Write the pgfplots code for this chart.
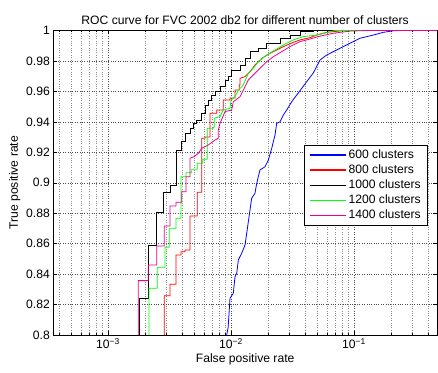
\documentclass[border=0pt]{standalone}
\usepackage{fontspec}
\setmainfont{Liberation Sans}
\usepackage{pgfplots}
\pgfplotsset{compat=1.18}
\begin{document}
\begin{tikzpicture}
\begin{axis}[
  xmode=log,
  scale only axis,
  width=383.7bp, height=304.5bp,
  xmin=3.59e-4, xmax=0.473,
  ymin=0.8, ymax=1,
  font=\fontsize{12.2}{14}\selectfont,
  /pgf/number format/assume math mode=true,
  xtick={1e-3,1e-2,1e-1},
  xticklabels={10\textsuperscript{−3},10\textsuperscript{−2},10\textsuperscript{−1}},
  ytick={0.8,0.82,0.84,0.86,0.88,0.9,0.92,0.94,0.96,0.98,1},
  yticklabels={0.8,0.82,0.84,0.86,0.88,0.9,0.92,0.94,0.96,0.98,1},
  minor xtick={4e-4,5e-4,6e-4,7e-4,8e-4,9e-4,2e-3,3e-3,4e-3,5e-3,6e-3,7e-3,8e-3,9e-3,2e-2,3e-2,4e-2,5e-2,6e-2,7e-2,8e-2,9e-2,2e-1,3e-1,4e-1},
  tick align=inside,
  major tick length=4bp, minor tick length=2bp,
  tick style={black, line width=0.4pt},
  axis line style={line width=0.7pt},
  grid=both,
  major grid style={dotted, black!70, line width=0.4pt},
  minor grid style={dotted, black!45, line width=0.4pt},
  title={ROC curve for FVC 2002 db2 for different number of clusters},
  title style={yshift=-4bp},
  xlabel={False positive rate},
  ylabel={True positive rate},
  xlabel style={yshift=2bp},
  ylabel style={yshift=-1bp},
  legend style={at={(0.977,0.624)}, anchor=north east, draw=black, line width=0.7pt,
    font=\fontsize{12.2}{14}\selectfont, row sep=0.8bp, inner xsep=5bp, inner ysep=2.5bp},
  legend cell align=left,
  legend image code/.code={\draw[#1, line width=1.2pt] (0bp,0bp) -- (36bp,0bp);},
  clip=true,
]
\coordinate (SW) at (rel axis cs:0,0);
\coordinate (NE) at (rel axis cs:1,1);
% 600 clusters
\addplot[color=blue, line width=0.8pt] coordinates {
(9.226e-3,0.79)(9.226e-3,0.8)(9.506e-3,0.8055)(9.506e-3,0.8066)(9.815e-3,0.8241)(1.044e-2,0.8274)
(1.078e-2,0.8383)(1.113e-2,0.8405)(1.147e-2,0.8493)(1.222e-2,0.8537)(1.300e-2,0.8591)(1.342e-2,0.8668)
(1.427e-2,0.8821)(1.473e-2,0.8898)(1.567e-2,0.8931)(1.618e-2,0.8996)(1.721e-2,0.9084)(1.890e-2,0.9105)
(2.011e-2,0.9149)(2.143e-2,0.9226)(2.279e-2,0.9314)(2.352e-2,0.9390)(2.503e-2,0.9401)(2.663e-2,0.9445)
(2.838e-2,0.9478)(3.115e-2,0.9532)(3.420e-2,0.9576)(3.757e-2,0.9620)(4.125e-2,0.9664)(4.668e-2,0.9721)
(5.292e-2,0.9806)(5.998e-2,0.9839)(6.787e-2,0.9861)(7.694e-2,0.9883)(9.280e-2,0.9916)(0.1119,0.9949)
(0.1435,0.9970)(0.1730,0.9988)(0.2087,0.9998)(0.2366,1)(0.6,1)
};
\addlegendentry{600 clusters}
% 800 clusters
\addplot[color=red, line width=0.8pt] coordinates {
(2.869e-3,0.79)(2.869e-3,0.8258)(3.192e-3,0.8258)(3.192e-3,0.8333)(3.572e-3,0.8333)(3.572e-3,0.8525)
(3.922e-3,0.8525)(3.922e-3,0.8547)(4.227e-3,0.8547)(4.227e-3,0.8558)(4.642e-3,0.8558)(4.642e-3,0.8782)
(5.321e-3,0.8782)(5.321e-3,0.8937)(5.778e-3,0.8937)(5.778e-3,0.9292)(6.146e-3,0.9292)(6.146e-3,0.9300)
(6.749e-3,0.9300)(6.749e-3,0.9456)(7.649e-3,0.9456)(7.649e-3,0.9478)(8.657e-3,0.9478)(8.657e-3,0.9543)
(9.815e-3,0.9543)(9.815e-3,0.9557)(1.078e-2,0.9557)(1.078e-2,0.9609)(1.168e-2,0.9609)(1.168e-2,0.9642)
(1.184e-2,0.9642)(1.184e-2,0.9686)(1.300e-2,0.9697)(1.427e-2,0.9729)(1.567e-2,0.9773)(1.777e-2,0.9817)
(2.076e-2,0.9850)(2.352e-2,0.9872)(2.663e-2,0.9894)(3.210e-2,0.9922)(3.639e-2,0.9938)(4.388e-2,0.9953)
(4.975e-2,0.9970)(6.0e-2,0.9988)(8.452e-2,1)(0.6,1)
};
\addlegendentry{800 clusters}
% 1000 clusters
\addplot[color=black, line width=0.8pt] coordinates {
(1.786e-3,0.79)(1.786e-3,0.8241)(2.127e-3,0.8241)(2.127e-3,0.8587)(2.489e-3,0.8587)(2.489e-3,0.8806)
(2.816e-3,0.8806)(2.816e-3,0.8935)(3.192e-3,0.8935)(3.192e-3,0.8985)(3.572e-3,0.8985)(3.572e-3,0.9215)
(3.922e-3,0.9215)(3.922e-3,0.9270)(4.227e-3,0.9270)(4.227e-3,0.9327)(4.642e-3,0.9327)(4.642e-3,0.9358)
(4.938e-3,0.9358)(4.938e-3,0.9390)(5.262e-3,0.9390)(5.262e-3,0.9412)(5.778e-3,0.9412)(5.778e-3,0.9456)
(6.146e-3,0.9456)(6.146e-3,0.9511)(6.538e-3,0.9511)(6.538e-3,0.9543)(6.967e-3,0.9543)(6.967e-3,0.9576)
(7.410e-3,0.9576)(7.410e-3,0.9598)(8.138e-3,0.9598)(8.138e-3,0.9631)(8.937e-3,0.9631)(8.937e-3,0.9675)
(9.506e-3,0.9675)(9.506e-3,0.9697)(1.0e-2,0.9697)(1.0e-2,0.9741)(1.184e-2,0.9741)(1.184e-2,0.9773)
(1.300e-2,0.9773)(1.300e-2,0.9817)(1.427e-2,0.9817)(1.427e-2,0.9861)(1.667e-2,0.9861)(1.667e-2,0.9883)
(1.951e-2,0.9883)(1.951e-2,0.9916)(2.503e-2,0.9916)(2.503e-2,0.9949)(3.018e-2,0.9949)(3.018e-2,0.9970)
(3.639e-2,0.9970)(3.639e-2,0.9992)(4.642e-2,0.9992)(4.642e-2,1)(0.6,1)
};
\addlegendentry{1000 clusters}
% 1200 clusters
\addplot[color=green, line width=0.8pt] coordinates {
(2.154e-3,0.79)(2.154e-3,0.8307)(2.517e-3,0.8307)(2.517e-3,0.8445)(2.907e-3,0.8445)(2.907e-3,0.8576)
(3.150e-3,0.8576)(3.150e-3,0.8701)(3.572e-3,0.8701)(3.572e-3,0.8767)(3.922e-3,0.8767)(3.922e-3,0.9040)
(4.307e-3,0.9040)(4.307e-3,0.9066)(4.792e-3,0.9066)(4.792e-3,0.9088)(5.321e-3,0.9088)(5.321e-3,0.9128)
(5.887e-3,0.9128)(5.887e-3,0.9154)(6.417e-3,0.9154)(6.417e-3,0.9358)(7.179e-3,0.9358)(7.179e-3,0.9364)
(7.3e-3,0.9364)(7.3e-3,0.9423)(8.138e-3,0.9434)(8.657e-3,0.9478)(9.815e-3,0.9489)(1.0e-2,0.9543)
(1.078e-2,0.9565)(1.147e-2,0.9609)(1.259e-2,0.9642)(1.383e-2,0.9719)(1.518e-2,0.9752)(1.667e-2,0.9795)
(1.951e-2,0.9839)(2.279e-2,0.9872)(2.663e-2,0.9905)(3.210e-2,0.9938)(3.871e-2,0.9960)(4.975e-2,0.9970)
(7.0e-2,1)(0.6,1)
};
\addlegendentry{1200 clusters}
% 1400 clusters
\addplot[color=magenta, line width=0.8pt] coordinates {
(1.763e-3,0.79)(1.763e-3,0.8357)(2.127e-3,0.8357)(2.127e-3,0.8460)(2.489e-3,0.8460)(2.489e-3,0.8585)
(2.869e-3,0.8585)(2.869e-3,0.8716)(3.192e-3,0.8716)(3.192e-3,0.8847)(3.572e-3,0.8847)(3.572e-3,0.8872)
(3.974e-3,0.8872)(3.974e-3,0.8941)(4.307e-3,0.8941)(4.307e-3,0.9040)(4.642e-3,0.9040)(4.642e-3,0.9161)
(5.003e-3,0.9171)(5.422e-3,0.9193)(5.778e-3,0.9226)(6.146e-3,0.9237)(6.538e-3,0.9248)(7.410e-3,0.9281)
(7.882e-3,0.9292)(7.882e-3,0.9346)(8.138e-3,0.9390)(8.937e-3,0.9467)(1.013e-2,0.9478)(1.044e-2,0.9532)
(1.184e-2,0.9565)(1.383e-2,0.9675)(1.518e-2,0.9708)(1.721e-2,0.9752)(1.951e-2,0.9795)(2.208e-2,0.9828)
(2.584e-2,0.9861)(3.018e-2,0.9894)(3.639e-2,0.9927)(4.388e-2,0.9944)(5.127e-2,0.9960)(6.787e-2,0.9982)
(9.28e-2,0.9996)(0.1268,1)(0.6,1)
};
\addlegendentry{1400 clusters}
\end{axis}
\pgfresetboundingbox
\path ([shift={(-53.3bp,-38bp)}]SW) rectangle ([shift={(1bp,30.5bp)}]NE);
\end{tikzpicture}
\end{document}
